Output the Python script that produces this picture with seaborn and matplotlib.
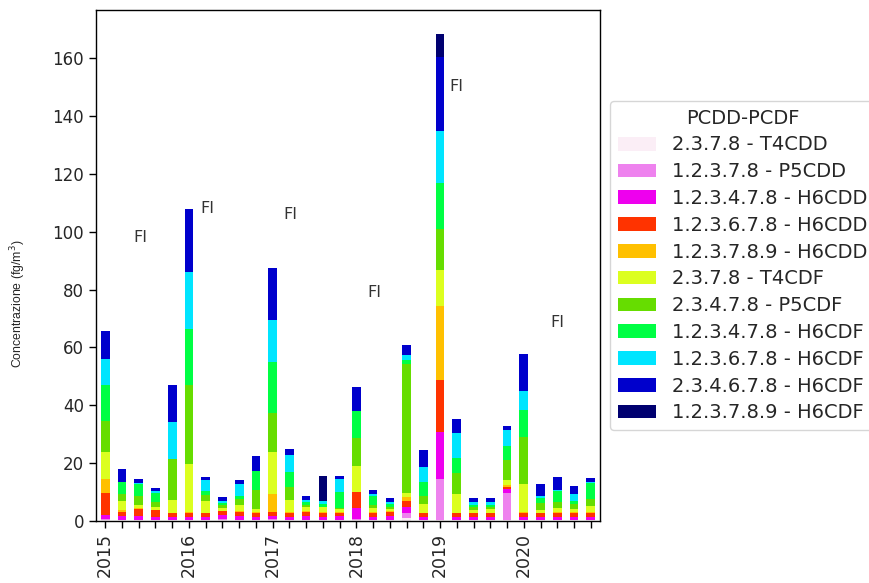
import numpy as np
import matplotlib
matplotlib.use("Agg")
import matplotlib.pyplot as plt
import seaborn as sns

# ---- data -------------------------------------------------------------
bar_index = list(range(30))
tick_labels = ["2015", "", "", "", "", "2016", "", "", "", "", "2017", "", "", "", "",
               "2018", "", "", "", "", "2019", "", "", "", "", "2020", "", "", "", ""]

congeners = ["2.3.7.8 - T4CDD", "1.2.3.7.8 - P5CDD", "1.2.3.4.7.8 - H6CDD",
             "1.2.3.6.7.8 - H6CDD", "1.2.3.7.8.9 - H6CDD", "2.3.7.8 - T4CDF",
             "2.3.4.7.8 - P5CDF", "1.2.3.4.7.8 - H6CDF", "1.2.3.6.7.8 - H6CDF",
             "2.3.4.6.7.8 - H6CDF", "1.2.3.7.8.9 - H6CDF"]

t4cdd     = [0.3, 0.2, 0.2, 0.2, 0.2, 0.2, 0.2, 0.3, 0.2, 0.2, 0.3, 0.2, 0.2, 0.2, 0.2,
             0.3, 0.2, 0.2, 1.2, 0.2, 0.5, 0.2, 0.2, 0.2, 0.3, 0.2, 0.2, 0.2, 0.2, 0.2]
p5cdd     = [0.3, 0.2, 0.2, 0.2, 0.2, 0.2, 0.2, 0.3, 0.2, 0.2, 0.3, 0.2, 0.2, 0.2, 0.2,
             0.3, 0.2, 0.2, 1.5, 0.2, 14.1, 0.2, 0.2, 0.2, 9.5, 0.2, 0.2, 0.2, 0.2, 0.2]
h6cdd_478 = [1.5, 1.4, 1.2, 1.0, 1.1, 1.1, 1.1, 1.4, 1.2, 1.1, 1.2, 1.1, 1.2, 1.1, 1.2,
             4.0, 1.1, 1.3, 2.0, 1.0, 16.1, 1.1, 1.1, 1.1, 1.2, 1.1, 1.1, 1.1, 1.1, 1.1]
h6cdd_678 = [7.5, 1.4, 2.5, 2.3, 1.2, 1.3, 1.2, 1.3, 1.4, 1.2, 1.2, 1.3, 1.5, 1.4, 1.2,
             5.4, 1.3, 1.3, 2.3, 1.2, 18.1, 1.2, 1.2, 1.2, 0.8, 1.4, 1.2, 1.2, 1.2, 1.2]
h6cdd_789 = [4.8, 0.6, 0.3, 0.1, 0.2, 0.2, 0.2, 0.2, 0.3, 0.5, 6.3, 0.2, 0.5, 0.2, 0.2,
             0.0, 0.2, 0.3, 1.4, 0.2, 25.6, 0.2, 0.2, 0.2, 0.5, 0.2, 0.2, 0.3, 0.3, 0.3]
t4cdf     = [9.4, 3.2, 1.2, 1.2, 4.3, 16.8, 4.1, 0.9, 2.4, 1.1, 14.5, 4.3, 1.2, 1.6, 1.0,
             9.0, 1.6, 1.0, 1.4, 3.2, 12.5, 6.3, 1.0, 1.1, 2.0, 9.8, 1.0, 1.5, 1.0, 2.3]
p5cdf     = [10.9, 2.2, 3.0, 1.7, 14.2, 27.1, 2.0, 1.1, 2.0, 6.4, 13.6, 4.5, 0.6, 0.3, 0.4,
             9.8, 0.8, 0.7, 44.3, 2.6, 13.9, 7.5, 0.8, 0.7, 6.9, 16.1, 2.4, 2.2, 2.0, 2.2]
h6cdf_478 = [12.3, 4.4, 4.2, 3.1, 0.0, 19.3, 1.5, 0.8, 1.0, 6.5, 17.5, 5.3, 1.2, 0.9, 5.7,
             9.1, 3.2, 1.0, 1.4, 4.8, 16.1, 5.0, 0.9, 1.0, 4.6, 9.2, 1.5, 3.5, 0.8, 5.5]
h6cdf_678 = [8.9, 0.0, 0.5, 0.4, 12.8, 20.0, 3.7, 0.7, 4.0, 0.0, 14.6, 5.8, 0.7, 0.9, 4.3,
             0.0, 0.6, 0.6, 1.8, 5.1, 17.9, 8.6, 0.9, 0.8, 5.8, 6.6, 0.7, 0.6, 2.5, 0.6]
h6cdf_234 = [9.6, 4.4, 1.2, 1.3, 12.8, 21.7, 1.1, 1.4, 1.5, 5.3, 17.9, 2.0, 1.3, 0.0, 1.2,
             8.4, 1.4, 1.2, 3.4, 6.2, 25.7, 4.9, 1.3, 1.3, 1.4, 12.8, 4.3, 4.4, 2.9, 1.1]
h6cdf_789 = [0.0, 0.0, 0.0, 0.0, 0.0, 0.0, 0.0, 0.0, 0.0, 0.0, 0.0, 0.0, 0.0, 8.7, 0.0,
             0.0, 0.0, 0.0, 0.0, 0.0, 7.8, 0.0, 0.0, 0.0, 0.0, 0.0, 0.0, 0.0, 0.0, 0.0]

series = [t4cdd, p5cdd, h6cdd_478, h6cdd_678, h6cdd_789, t4cdf, p5cdf,
          h6cdf_478, h6cdf_678, h6cdf_234, h6cdf_789]

colors = ["#fbeef6", "#ee82ee", "#ee00ee", "#ff3300", "#ffc000", "#dcff20",
          "#66dd00", "#00ff44", "#00e5ff", "#0000cc", "#000070"]

fi_x = [2.1, 6.1, 11.05, 16.1, 21.0, 27.0]
fi_y = [98, 108, 106, 79, 150, 68.5]

# ---- plot -------------------------------------------------------------
sns.set_style("ticks")
plt.rcParams["font.family"] = ["DejaVu Sans"]

fig = plt.figure(figsize=(8.69, 5.83), dpi=100)
ax = fig.add_axes([96 / 869, 1 - 521 / 583, 504 / 869, 511 / 583])

pos = np.array(bar_index)
bottom = np.zeros(len(pos))
for name, vals, col in zip(congeners, series, colors):
    vals = np.asarray(vals, dtype=float)
    sns.barplot(x=pos, y=vals, bottom=bottom.copy(), color=col, width=0.52,
                native_scale=True, saturation=1, linewidth=0, ax=ax,
                label=name, errorbar=None)
    bottom += vals

for x, y in zip(fi_x, fi_y):
    ax.text(x, y, "FI", ha="center", va="center", fontsize=11.5, color="#333333")

ax.set_xlim(-0.55, 29.55)
ax.set_ylim(0, 176.6)
ax.set_yticks(np.arange(0, 161, 20))
ax.set_xticks(pos)
ax.set_xticklabels(tick_labels, rotation=90, fontsize=12.5)
ax.tick_params(axis="y", labelsize=12)
ax.tick_params(axis="both", length=5, width=1, color="black")
ax.set_xlabel("")
ax.set_ylabel("Concentrazione (fg/m$^3$)", fontsize=8.8,
              family=["Liberation Sans", "DejaVu Sans"])
ax.yaxis.set_label_coords(-0.135, 0.425)
for s in ax.spines.values():
    s.set_visible(True)
    s.set_color("black")
    s.set_linewidth(1)

handles, labels = ax.get_legend_handles_labels()
leg = ax.legend(handles, labels, title="PCDD-PCDF", loc="center left",
                bbox_to_anchor=(1.0, 0.5), fontsize=14, title_fontsize=14,
                frameon=True, fancybox=True, framealpha=0.8, edgecolor="#cccccc",
                handlelength=2.0, labelspacing=0.4)

fig.savefig("out.png", dpi=100)
